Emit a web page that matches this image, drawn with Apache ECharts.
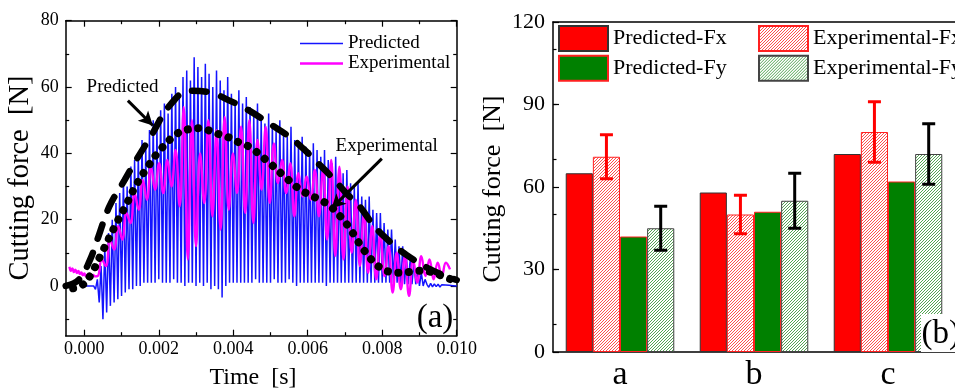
<!DOCTYPE html>
<html>
<head>
<meta charset="utf-8">
<script src="https://cdn.jsdelivr.net/npm/echarts@6.0.0/dist/echarts.min.js"></script>
<style>
  html, body { margin: 0; padding: 0; background: #fff; }
  #chart { width: 955px; height: 392px; }
</style>
</head>
<body>
<div id="chart"></div>
<script>
// ---------- (a) time history of cutting force ----------
const T_MIN = -0.0005, T_MAX = 0.010;
const F_MIN = -15, F_MAX = 80;
const timeTicks = [0, 0.002, 0.004, 0.006, 0.008, 0.010];
const timeMinorTicks = [0.001, 0.003, 0.005, 0.007, 0.009];
const forceTicks = [0, 20, 40, 60, 80];
const forceMinorTicks = [-10, 10, 30, 50, 70];

// predicted signal: one trough and one peak per tooth pass (0.1 ms), from 0.3 ms
const PRED_START = 0.0003, PRED_PERIOD = 0.0001;
const predPeaks = [2,6,12,16,20,25,28,32,30,36, 38,40,44,42,47,50,48,53,55,52,
  58,60,57,63,65,62,69,66,63,67, 64,60,65,62,59,63,58,56,59,55,
  57,54,52,55,51,49,52,49,47,50, 46,45,48,44,43,45,42,41,43,41,
  39,41,38,37,39,35,34,35,31,30, 31,27,26,27,23,22,22,19,17,17,
  14,12,12,9,8,7,5,4,2];
const predTroughs = [-1,-5,-10,-8,-6,-5,-4,-3,-2,-1,-1,
  0,0,1,1,1,1,2,1,1,1, 2,1,1,0,1,1,0,1,0,1, -1,0,-1,-3.5,0,1,1,1,1,1,
  1,1,2,1,1,1,1,2,1,1, 1,2,1,0,1,1,1,1,1,1, 1,0,1,1,1,1,1,1,1,1,
  1,1,1,1,1,1,1,1,1,1, 1,0.5,0.5,0.5,0.5,0.5,0,0];
// residual ripple after the cut, sampled every 0.05 ms from 9.2 ms
const PRED_TAIL_START = 0.0092, PRED_TAIL_STEP = 0.00005;
const predTail = [0.5,-0.4,0.8,-0.3,0.6,-0.2,0.5,-0.3,0.4,-0.1,0.3,-0.1,0.2,0,0.1,0,0];

// measured signal: pre-contact ripple, then successive extrema
const EXP_LEAD_START = -0.0004, EXP_LEAD_STEP = 0.00004;
const expLeadIn = [5.8,4.6,5.3,4.2,4.9,3.9,4.5,3.6,4.1,3.2,3.8,2.9,3.4,2.8,3.2,2.7,3.3,2.9];
const EXP_START = 0.00036, EXP_STEP = 0.00011;
const expExtrema = [3.0,8,6,14,11,18,14,22,19,28, 23,32,26,36,29,37,28,38,30,41,
  24,54,8,50,12,40,25,50,21,47, 17,51,23,40,28,48,22,50,19,44,
  29,48,25,43,31,38,28,37,21,34, 27,33,26,35,21,35,14,38,9,36,
  8,30,10,26,6,22,4,18,2,16, 3,12,-2,10,-1,9,-3,8,1,9, 3,8,2,7,3,7,5];

// force envelopes
const predEnvTime = [-0.0005,-0.00014,0.00015,0.00036,0.00067,0.00108,0.00139,0.0018,0.00229,0.00283,
  0.00336,0.0039,0.00435,0.00498,0.00552,0.00588,0.00624,0.00664,0.00704,0.0074,
  0.0078,0.00826,0.00866,0.00924,0.00974,0.0100];
const predEnvForce = [0,2.0,7.8,14.3,23.9,31.9,37.9,45.4,54.4,58.9,
  58.4,55.9,53.4,48.9,44.9,41.4,37.4,32.9,27.9,23.9,
  17.8,12.8,9.3,5.3,2.8,1.8];
const expEnvTime = [-0.0003,-0.00005,0.00018,0.00045,0.00083,0.00112,0.00139,0.0017,0.00205,0.00249,
  0.00278,0.00308,0.00335,0.00363,0.0039,0.00417,0.00444,0.00489,0.00534,0.00582,
  0.00634,0.00659,0.0068,0.007,0.00718,0.00734,0.00751,0.00769,0.00791,0.00819,
  0.00848,0.00878,0.00906,0.00938,0.00965,0.0099];
const expEnvForce = [-0.7,0.3,3.5,9.5,18.2,24.4,30.4,35.9,41.2,45.9,
  47.2,47.6,46.9,45.7,44.7,43.2,41.9,37.9,33.4,28.9,
  25.9,24.2,21.9,19.3,16.5,13.6,10.8,8.2,5.8,4.3,
  4.0,4.3,4.6,4.0,2.8,1.8];

// annotation arrows [from, to] in (time, force)
const predArrow = [[0.00117, 55.9], [0.00184, 48.4]];
const expArrow = [[0.00799, 38.4], [0.00664, 23.4]];

// ---------- (b) mean cutting forces ----------
const groups = ['a', 'b', 'c'];
const forceAxisTicks = [0, 30, 60, 90, 120];
const predFx = [65, 58, 72];
const expFx = [71, 50, 80];
const predFy = [42, 51, 62];
const expFy = [45, 55, 72];
const expFxErr = [8, 7, 11];
const expFyErr = [8, 10, 11];

// ---------- build ----------
const SERIF = "'Liberation Serif', 'Times New Roman', serif";

function zip(xs, ys) { return xs.map((x, i) => [x, ys[i]]); }

const predictedData = [[0, 0], [0.00025, 0]];
predPeaks.forEach((p, k) => {
  const t = PRED_START + k * PRED_PERIOD;
  predictedData.push([t, predTroughs[k]]);
  predictedData.push([t + PRED_PERIOD / 2, p]);
});
predTail.forEach((v, j) => predictedData.push([PRED_TAIL_START + j * PRED_TAIL_STEP, v]));

const experimentalData = [];
expLeadIn.forEach((v, j) => experimentalData.push([EXP_LEAD_START + j * EXP_LEAD_STEP, v]));
expExtrema.forEach((v, i) => experimentalData.push([EXP_START + i * EXP_STEP, v]));

function hatch(lineColor) {
  const c = document.createElement('canvas');
  c.width = 3; c.height = 3;
  const g = c.getContext('2d');
  g.fillStyle = '#ffffff';
  g.fillRect(0, 0, 3, 3);
  g.strokeStyle = lineColor;
  g.lineWidth = 0.9;
  g.beginPath();
  g.moveTo(-1, 4); g.lineTo(4, -1);
  g.moveTo(-1, 1); g.lineTo(1, -1);
  g.moveTo(2, 4); g.lineTo(4, 2);
  g.stroke();
  return c;
}

const BLACK_LINE = { color: '#000', width: 1.5 };
const TICK_STYLE = { color: '#000', width: 1.2 };
const noLabel = { show: false };

function valueAxis(extra) {
  return Object.assign({
    type: 'value', splitLine: { show: false }, axisLine: { show: false, onZero: false },
    axisLabel: noLabel
  }, extra);
}

function frameLine() { return { show: true, onZero: false, lineStyle: BLACK_LINE }; }

function tickOnly(values, len) {
  return { show: true, inside: true, length: len, customValues: values, lineStyle: TICK_STYLE };
}

const xAxes = [
  valueAxis({ gridIndex: 0, min: T_MIN, max: T_MAX, position: 'bottom',
    axisLine: frameLine(),
    axisTick: tickOnly(timeTicks, 6),
    axisLabel: { show: true, customValues: timeTicks, formatter: v => v.toFixed(3),
      fontFamily: SERIF, fontSize: 18, color: '#000', margin: 5 } }),
  valueAxis({ gridIndex: 0, min: T_MIN, max: T_MAX, position: 'bottom', axisTick: tickOnly(timeMinorTicks, 3.5) }),
  valueAxis({ gridIndex: 0, min: T_MIN, max: T_MAX, position: 'top',
    axisLine: frameLine(), axisTick: tickOnly(timeTicks, 6) }),
  valueAxis({ gridIndex: 0, min: T_MIN, max: T_MAX, position: 'top', axisTick: tickOnly(timeMinorTicks, 3.5) }),
  { gridIndex: 1, type: 'category', data: groups, position: 'bottom',
    axisLine: frameLine(),
    axisTick: { inside: true, length: 5, lineStyle: TICK_STYLE },
    axisLabel: { fontFamily: SERIF, fontSize: 34, color: '#000', margin: 6 } },
  { gridIndex: 1, type: 'category', data: groups, position: 'top',
    axisLine: frameLine(),
    axisTick: { inside: true, length: 4, lineStyle: TICK_STYLE }, axisLabel: noLabel },
  { gridIndex: 1, type: 'category', data: groups, position: 'top',
    axisLine: { show: false, onZero: false },
    axisTick: { inside: true, length: 6, alignWithLabel: true, lineStyle: TICK_STYLE }, axisLabel: noLabel }
];

const yAxes = [
  valueAxis({ gridIndex: 0, min: F_MIN, max: F_MAX, position: 'left',
    axisLine: frameLine(),
    axisTick: tickOnly(forceTicks, 6),
    axisLabel: { show: true, customValues: forceTicks, fontFamily: SERIF, fontSize: 18, color: '#000', margin: 7 } }),
  valueAxis({ gridIndex: 0, min: F_MIN, max: F_MAX, position: 'left', axisTick: tickOnly(forceMinorTicks, 3.5) }),
  valueAxis({ gridIndex: 0, min: F_MIN, max: F_MAX, position: 'right',
    axisLine: frameLine(), axisTick: tickOnly(forceTicks, 6) }),
  valueAxis({ gridIndex: 0, min: F_MIN, max: F_MAX, position: 'right', axisTick: tickOnly(forceMinorTicks, 3.5) }),
  valueAxis({ gridIndex: 1, min: 0, max: 120, position: 'left',
    axisLine: frameLine(),
    axisTick: tickOnly(forceAxisTicks, 6),
    minorTick: { show: true, splitNumber: 2, length: 3.5, lineStyle: TICK_STYLE },
    axisLabel: { show: true, customValues: forceAxisTicks, fontFamily: SERIF, fontSize: 22, color: '#000', margin: 8 } })
];

function errorBars(name, means, errs, offset, color) {
  return {
    type: 'custom', name: name, xAxisIndex: 4, yAxisIndex: 4, z: 5,
    data: means.map((m, i) => [i, m, errs[i]]),
    renderItem: function (params, api) {
      const i = api.value(0), m = api.value(1), e = api.value(2);
      const band = api.size([1, 0])[0];
      const x = api.coord([i, m])[0] + offset * band;
      const yHi = api.coord([i, m + e])[1];
      const yLo = api.coord([i, m - e])[1];
      const half = 6.5;
      const style = { stroke: color, lineWidth: 3 };
      return { type: 'group', children: [
        { type: 'line', shape: { x1: x, y1: yHi, x2: x, y2: yLo }, style: style },
        { type: 'line', shape: { x1: x - half, y1: yHi, x2: x + half, y2: yHi }, style: style },
        { type: 'line', shape: { x1: x - half, y1: yLo, x2: x + half, y2: yLo }, style: style }
      ] };
    }
  };
}

// bar slot centres inside a category band: 4 bars over 81 % of the band
const SLOT = 0.81 / 4;
const expFxOffset = -0.405 + 1.5 * SLOT;
const expFyOffset = -0.405 + 3.5 * SLOT;

const fxHatch = hatch('#ff3b3b');
const fyHatch = hatch('#3f9a3f');

// thin bars used as legend keys for the two signals
const thinKey = 'path://M0,0h43v1.3h-43z';
const thickKey = 'path://M0,0h43v2.6h-43z';

const option = {
  animation: false,
  backgroundColor: '#ffffff',
  grid: [
    { left: 65.7, top: 20.7, width: 391, height: 315 },
    { left: 553, top: 22, width: 407.4, height: 332 }
  ],
  xAxis: xAxes,
  yAxis: yAxes,
  legend: [
    { data: [{ name: 'Predicted', icon: thinKey }, { name: 'Experimental', icon: thickKey }],
      orient: 'vertical', left: 300, top: 34, padding: 0,
      itemWidth: 43, itemHeight: 14, itemGap: 1, selectedMode: false,
      textStyle: { fontFamily: SERIF, fontSize: 19, color: '#000' } },
    { data: ['Predicted-Fx', 'Predicted-Fy'], orient: 'vertical', left: 558, top: 25, padding: 0,
      itemWidth: 49, itemHeight: 25, itemGap: 2.7, selectedMode: false, icon: 'rect',
      textStyle: { fontFamily: SERIF, fontSize: 22, color: '#000' } },
    { data: ['Experimental-Fx', 'Experimental-Fy'], orient: 'vertical', left: 758, top: 25, padding: 0,
      itemWidth: 49, itemHeight: 25, itemGap: 2.7, selectedMode: false, icon: 'rect',
      textStyle: { fontFamily: SERIF, fontSize: 22, color: '#000' } }
  ],
  series: [
    { name: 'Predicted', type: 'line', xAxisIndex: 0, yAxisIndex: 0, data: predictedData,
      symbol: 'none', z: 2, lineStyle: { color: '#1414ff', width: 1.5 }, itemStyle: { color: '#1414ff' } },
    { name: 'Experimental', type: 'line', xAxisIndex: 0, yAxisIndex: 0, data: experimentalData,
      symbol: 'none', smooth: 0.45, z: 3, lineStyle: { color: '#ff00ff', width: 2.4 }, itemStyle: { color: '#ff00ff' } },
    { name: 'Predicted envelope', type: 'line', xAxisIndex: 0, yAxisIndex: 0, data: zip(predEnvTime, predEnvForce),
      symbol: 'none', smooth: 0.4, z: 4,
      lineStyle: { color: '#000', width: 6.5, type: [15, 15], cap: 'round' },
      markLine: { silent: true, symbol: ['none', 'arrow'], symbolSize: [11, 14], label: { show: false },
        lineStyle: { color: '#000', width: 3, type: 'solid' },
        data: [
          [{ coord: predArrow[0] }, { coord: predArrow[1] }],
          [{ coord: expArrow[0] }, { coord: expArrow[1] }]
        ] } },
    { name: 'Experimental envelope', type: 'line', xAxisIndex: 0, yAxisIndex: 0, data: zip(expEnvTime, expEnvForce),
      symbol: 'none', smooth: 0.4, z: 4,
      lineStyle: { color: '#000', width: 8, type: [0.1, 10.5], cap: 'round' } },

    { name: 'Predicted-Fx', type: 'bar', xAxisIndex: 4, yAxisIndex: 4, data: predFx,
      barGap: '0%', barCategoryGap: '19%',
      itemStyle: { color: '#ff0000', borderColor: '#333', borderWidth: 1 } },
    { name: 'Experimental-Fx', type: 'bar', xAxisIndex: 4, yAxisIndex: 4, data: expFx,
      barGap: '0%', barCategoryGap: '19%',
      itemStyle: { color: { image: fxHatch, repeat: 'repeat' }, borderColor: '#ff2020', borderWidth: 1 } },
    { name: 'Predicted-Fy', type: 'bar', xAxisIndex: 4, yAxisIndex: 4, data: predFy,
      barGap: '0%', barCategoryGap: '19%',
      itemStyle: { color: '#008000', borderColor: '#ff2020', borderWidth: 1 } },
    { name: 'Experimental-Fy', type: 'bar', xAxisIndex: 4, yAxisIndex: 4, data: expFy,
      barGap: '0%', barCategoryGap: '19%',
      itemStyle: { color: { image: fyHatch, repeat: 'repeat' }, borderColor: '#444', borderWidth: 1 } },
    errorBars('Experimental-Fx error', expFx, expFxErr, expFxOffset, '#ff0000'),
    errorBars('Experimental-Fy error', expFy, expFyErr, expFyOffset, '#000000')
  ],
  graphic: [
    { type: 'text', x: 21, y: 178, rotation: Math.PI / 2, z: 50,
      style: { text: 'Cutting force  [N]', font: '28.5px ' + SERIF, fill: '#000',
        align: 'center', verticalAlign: 'middle', textAlign: 'center', textVerticalAlign: 'middle' } },
    { type: 'text', x: 253, y: 378, z: 50,
      style: { text: 'Time  [s]', font: '24px ' + SERIF, fill: '#000',
        align: 'center', verticalAlign: 'middle', textAlign: 'center', textVerticalAlign: 'middle' } },
    { type: 'text', x: 122.5, y: 87.5, z: 50,
      style: { text: 'Predicted', font: '19px ' + SERIF, fill: '#000',
        align: 'center', verticalAlign: 'middle', textAlign: 'center', textVerticalAlign: 'middle' } },
    { type: 'text', x: 386.7, y: 146, z: 50,
      style: { text: 'Experimental', font: '19px ' + SERIF, fill: '#000',
        align: 'center', verticalAlign: 'middle', textAlign: 'center', textVerticalAlign: 'middle' } },
    { type: 'text', x: 435, y: 318, z: 50,
      style: { text: '(a)', font: '33px ' + SERIF, fill: '#000',
        align: 'center', verticalAlign: 'middle', textAlign: 'center', textVerticalAlign: 'middle' } },
    { type: 'text', x: 493, y: 189, rotation: Math.PI / 2, z: 50,
      style: { text: 'Cutting force  [N]', font: '26px ' + SERIF, fill: '#000',
        align: 'center', verticalAlign: 'middle', textAlign: 'center', textVerticalAlign: 'middle' } },
    { type: 'rect', z: 60, shape: { x: 921, y: 314, width: 40, height: 38 }, style: { fill: '#ffffff' } },
    { type: 'text', x: 921.5, y: 334, z: 61,
      style: { text: '(b)', font: '33px ' + SERIF, fill: '#000',
        align: 'left', verticalAlign: 'middle', textAlign: 'left', textVerticalAlign: 'middle' } }
  ]
};

const chart = echarts.init(document.getElementById('chart'), null, { renderer: 'canvas' });
chart.setOption(option);
</script>
</body>
</html>
